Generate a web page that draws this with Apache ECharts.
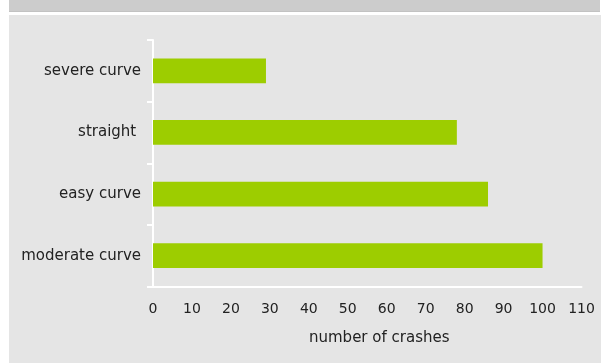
<!DOCTYPE html>
<html>
<head>
<meta charset="utf-8">
<script src="https://cdn.jsdelivr.net/npm/echarts@6/dist/echarts.min.js"></script>
<style>
  html, body { margin: 0; padding: 0; background: #ffffff; }
  #strip { position: absolute; left: 9px; top: 0; width: 591px; height: 11px; background: #cccccc; border-bottom: 1px solid #c2c2c2; }
  #panel { position: absolute; left: 9px; top: 15px; width: 592px; height: 348px; background: #e5e5e5; }
  #chart { position: absolute; left: 0; top: 0; width: 601px; height: 363px; }
</style>
</head>
<body>
<div id="strip"></div>
<div id="panel"></div>
<div id="chart"></div>
<script>
// Road alignment categories, listed bottom to top
const categories = ['moderate curve', 'easy curve', 'straight ', 'severe curve'];
const crashes = [100, 86, 78, 29];
const xTicks = { min: 0, max: 110, interval: 10 };
const xTitle = 'number of crashes';

const chart = echarts.init(document.getElementById('chart'), null, { renderer: 'canvas' });
const font = 'DejaVu Sans, Verdana, sans-serif';

chart.setOption({
  backgroundColor: 'transparent',
  animation: false,
  grid: { left: 153, top: 40, right: 19.5, bottom: 76.5, containLabel: false },
  xAxis: {
    type: 'value',
    min: xTicks.min,
    max: xTicks.max,
    interval: xTicks.interval,
    name: xTitle,
    nameLocation: 'middle',
    nameGap: 44,
    nameTextStyle: { fontFamily: font, fontSize: 15, color: '#222', padding: [0, 0, 0, 24] },
    axisLine: { show: true, lineStyle: { color: '#ffffff', width: 2 } },
    axisTick: { show: false },
    splitLine: { show: false },
    axisLabel: { fontFamily: font, fontSize: 14, color: '#222', margin: 16 }
  },
  yAxis: {
    type: 'category',
    data: categories,
    axisLine: { show: true, lineStyle: { color: '#ffffff', width: 2 } },
    axisTick: { show: true, length: 6, lineStyle: { color: '#ffffff', width: 2 } },
    axisLabel: { fontFamily: font, fontSize: 15, color: '#222', margin: 12 },
    splitLine: { show: false }
  },
  series: [{
    type: 'bar',
    data: crashes,
    barWidth: '40%',
    itemStyle: { color: '#9dcd00' },
    silent: true
  }]
});
</script>
</body>
</html>
